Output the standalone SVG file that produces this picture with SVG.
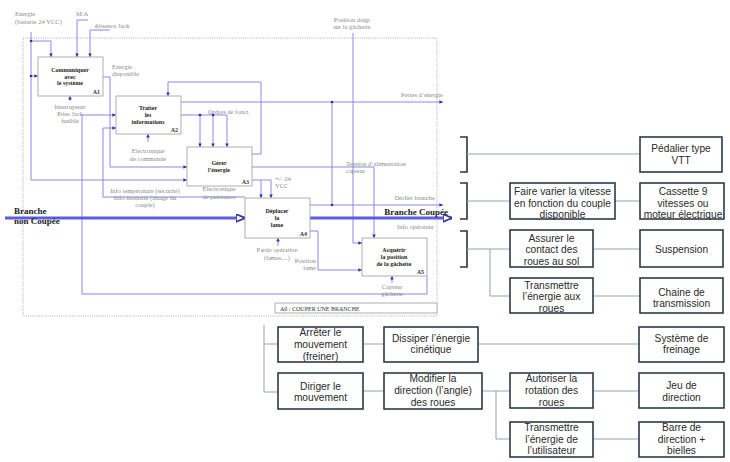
<svg xmlns="http://www.w3.org/2000/svg" width="730" height="462" viewBox="0 0 730 462">
<defs>
<style>
.bl{fill:none;stroke:#7d7de6;stroke-width:0.9}
.thick{fill:none;stroke:#5c5ce0;stroke-width:3}
.sbox{fill:#fff;stroke:#a6a6a6;stroke-width:0.9}
.frame{fill:none;stroke:#a6a6a6;stroke-width:0.9;stroke-dasharray:1 1.2}
.st{font-family:"Liberation Serif",serif;font-size:6px;font-weight:bold;fill:#222;text-anchor:middle}
.sn{font-family:"Liberation Serif",serif;font-size:6px;font-weight:bold;fill:#333;text-anchor:end}
.lb{font-family:"Liberation Serif",serif;font-size:6.5px;fill:#8a8a8a}
.lbm{font-family:"Liberation Serif",serif;font-size:6.5px;fill:#8a8a8a;text-anchor:middle}
.lbe{font-family:"Liberation Serif",serif;font-size:6.5px;fill:#8a8a8a;text-anchor:end}
.big{font-family:"Liberation Serif",serif;font-size:9px;font-weight:bold;fill:#222}
.dot{fill:#3030a0}
.rbox{fill:#fff;stroke:#2c3a4b;stroke-width:1.6}
.rl{fill:none;stroke:#93a3ad;stroke-width:1}
.br{fill:none;stroke:#333;stroke-width:1.6}
.rt{font-family:"Liberation Sans",Arial,sans-serif;font-size:10.2px;fill:#2a2a2a;text-anchor:middle}
</style>
<marker id="ar" viewBox="0 0 6 6" refX="6" refY="3" markerWidth="4" markerHeight="4" orient="auto"><path d="M0,0 L6,3 L0,6 z" fill="#3030a0"/></marker>
<marker id="art" viewBox="0 0 8 8" refX="8" refY="4" markerWidth="3" markerHeight="3" orient="auto"><path d="M0,0.5 L8,4 L0,7.5 z" fill="#fff" stroke="#3030a0" stroke-width="1.5"/></marker>
</defs>
<rect width="730" height="462" fill="#fff"/>

<!-- SADT frame -->
<g id="frame">
<rect class="frame" x="23" y="38" width="414" height="278"/>
<rect class="sbox" x="275" y="303" width="162" height="10"/>
<text class="lb" x="280" y="310.5" style="fill:#333;font-size:6px">A0 : COUPER UNE BRANCHE</text>
</g>

<!-- SADT connectors -->
<g id="connectors-sadt">
<path class="bl" d="M31,32 V180 H187" marker-end="url(#ar)"/>
<path class="bl" d="M31,41 H51 V57" marker-end="url(#ar)"/>
<path class="bl" d="M31,76 H38" marker-end="url(#ar)"/>
<path class="bl" d="M88,20 H77 V57" marker-end="url(#ar)"/>
<path class="bl" d="M110,30 H90 V57" marker-end="url(#ar)"/>
<path class="bl" d="M103,77 H110 V167 H187" marker-end="url(#ar)"/>
<path class="bl" d="M70,101 V96" marker-end="url(#ar)"/>
<path class="bl" d="M427,276 V294 H82 V115 H116" marker-end="url(#ar)"/>
<path class="bl" d="M245,197 H103 V128 H116" marker-end="url(#ar)"/>
<path class="bl" d="M252,154 H261 V82 H168 V96" marker-end="url(#ar)"/>
<path class="bl" d="M181,102 H443" marker-end="url(#ar)"/>
<path class="bl" d="M332,102 V205"/>
<path class="bl" d="M310,205 H443" marker-end="url(#ar)"/>
<path class="bl" d="M181,115 H227 V147" marker-end="url(#ar)"/>
<path class="bl" d="M200,115 V147" marker-end="url(#ar)"/>
<path class="bl" d="M213,115 V147" marker-end="url(#ar)"/>
<path class="bl" d="M148,142 V134" marker-end="url(#ar)"/>
<path class="bl" d="M252,167 H374 V238" marker-end="url(#ar)"/>
<path class="bl" d="M252,180 H271 V198" marker-end="url(#ar)"/>
<path class="bl" d="M261,180 V198" marker-end="url(#ar)"/>
<path class="bl" d="M353,33 V243 H362" marker-end="url(#ar)"/>
<path class="bl" d="M278,246 V238" marker-end="url(#ar)"/>
<path class="bl" d="M310,231 H318 V270 H362" marker-end="url(#ar)"/>
<path class="bl" d="M392,283 V276" marker-end="url(#ar)"/>
<path class="thick" d="M5,218 H245" marker-end="url(#art)"/>
<path class="thick" d="M310,218 H452" marker-end="url(#art)"/>
<circle class="dot" cx="31" cy="41" r="1.3"/>
<circle class="dot" cx="31" cy="76" r="1.3"/>
<circle class="dot" cx="332" cy="102" r="1.3"/>
<circle class="dot" cx="332" cy="205" r="1.3"/>
<circle class="dot" cx="200" cy="115" r="1.3"/>
<circle class="dot" cx="213" cy="115" r="1.3"/>
</g>

<!-- SADT labels -->
<g id="sadt-labels">
<text class="lb" x="15" y="16">Energie</text>
<text class="lb" x="15" y="24">(batterie 24 VCC)</text>
<text class="lb" x="76" y="16">M/A</text>
<text class="lb" x="94" y="28">Absence Jack</text>
<text class="lb" x="112" y="69">Energie</text>
<text class="lb" x="112" y="76">disponible</text>
<text class="lbm" x="70" y="109">Interrupteur</text>
<text class="lbm" x="70" y="116">Prise Jack</text>
<text class="lbm" x="70" y="123">fusible</text>
<text class="lb" x="208" y="114">Ordres de fonct.</text>
<text class="lbe" x="443" y="97">Pertes d’énergie</text>
<text class="lbm" x="148" y="153">Electronique</text>
<text class="lbm" x="148" y="161">de commande</text>
<text class="lbm" x="145" y="193">Info température (sécurité)</text>
<text class="lbm" x="145" y="200">Info intensité (image du</text>
<text class="lbm" x="145" y="207">couple)</text>
<text class="lbm" x="219" y="191">Electronique</text>
<text class="lbm" x="219" y="199">de puissance</text>
<text class="lb" x="275" y="181">+/- 24</text>
<text class="lb" x="275" y="188">VCC</text>
<text class="lb" x="346" y="166">Tension d’alimentation</text>
<text class="lb" x="346" y="173">capteur</text>
<text class="lbm" x="352" y="22">Position doigt</text>
<text class="lbm" x="352" y="29">sur la gâchette</text>
<text class="lbe" x="435" y="200">Déchet branche</text>
<text class="lb" x="397" y="229">Info opérateur</text>
<text class="lbm" x="277" y="252">Partie opérative</text>
<text class="lbm" x="277" y="260">(lames,...)</text>
<text class="lbe" x="316" y="263">Position</text>
<text class="lbe" x="316" y="270">lame</text>
<text class="lbm" x="392" y="289">Capteur</text>
<text class="lbm" x="392" y="296">gâchette</text>
<text class="big" x="14" y="214">Branche</text>
<text class="big" x="14" y="224">non Coupée</text>
<text class="big" x="448" y="215" text-anchor="end">Branche Coupée</text>
</g>

<g id="A1">
<rect class="sbox" x="38" y="57" width="65" height="39"/>
<text class="st" x="70" y="72">Communiquer</text>
<text class="st" x="70" y="78.5">avec</text>
<text class="st" x="70" y="85">le système</text>
<text class="sn" x="100" y="94">A1</text>
</g>
<g id="A2">
<rect class="sbox" x="116" y="96" width="65" height="38"/>
<text class="st" x="148" y="110">Traiter</text>
<text class="st" x="148" y="117">les</text>
<text class="st" x="148" y="123.5">informations</text>
<text class="sn" x="178" y="132">A2</text>
</g>
<g id="A3">
<rect class="sbox" x="187" y="147" width="65" height="39"/>
<text class="st" x="219" y="165">Gérer</text>
<text class="st" x="219" y="172">l'énergie</text>
<text class="sn" x="249" y="184">A3</text>
</g>
<g id="A4">
<rect class="sbox" x="245" y="198" width="65" height="40"/>
<text class="st" x="277" y="213">Déplacer</text>
<text class="st" x="277" y="220">la</text>
<text class="st" x="277" y="227">lame</text>
<text class="sn" x="307" y="236">A4</text>
</g>
<g id="A5">
<rect class="sbox" x="362" y="238" width="65" height="38"/>
<text class="st" x="394" y="252">Acquérir</text>
<text class="st" x="394" y="259">la position</text>
<text class="st" x="394" y="266">de la gâchette</text>
<text class="sn" x="424" y="274">A5</text>
</g>

<!-- Functional tree connectors -->
<g id="connectors-tree">
<path class="br" d="M460,137 H467 V172 H460"/>
<path class="br" d="M460,183 H467 V219 H460"/>
<path class="br" d="M460,231 H467 V267 H460"/>
<path class="rl" d="M467,154 H640"/>
<path class="rl" d="M467,201 H510"/>
<path class="rl" d="M615,201 H640"/>
<path class="rl" d="M467,249 H510"/>
<path class="rl" d="M490,249 V296 H510"/>
<path class="rl" d="M593,249 H640"/>
<path class="rl" d="M593,296 H640"/>
<path class="rl" d="M264,325 V392 H278"/>
<path class="rl" d="M264,344 H278"/>
<path class="rl" d="M363,344 H384"/>
<path class="rl" d="M478,344 H639"/>
<path class="rl" d="M363,391 H384"/>
<path class="rl" d="M482,391 H510"/>
<path class="rl" d="M496,391 V439 H510"/>
<path class="rl" d="M593,391 H639"/>
<path class="rl" d="M593,439 H639"/>
</g>

<g id="pedalier">
<rect class="rbox" x="640" y="137" width="82" height="35"/>
<text class="rt" x="681" y="152">Pédalier type</text>
<text class="rt" x="681" y="164">VTT</text>
</g>
<g id="faire-varier">
<rect class="rbox" x="510" y="183" width="105" height="36"/>
<text class="rt" x="562.5" y="195">Faire varier la vitesse</text>
<text class="rt" x="562.5" y="207">en fonction du couple</text>
<text class="rt" x="562.5" y="218">disponible</text>
</g>
<g id="cassette">
<rect class="rbox" x="640" y="183" width="84" height="36"/>
<text class="rt" x="683" y="195">Cassette 9</text>
<text class="rt" x="683" y="207">vitesses ou</text>
<text class="rt" x="683" y="218">moteur électrique</text>
</g>
<g id="assurer">
<rect class="rbox" x="510" y="230" width="83" height="37"/>
<text class="rt" x="551.5" y="242">Assurer le</text>
<text class="rt" x="551.5" y="253">contact des</text>
<text class="rt" x="551.5" y="265">roues au sol</text>
</g>
<g id="suspension">
<rect class="rbox" x="640" y="230" width="83" height="37"/>
<text class="rt" x="681.5" y="253">Suspension</text>
</g>
<g id="transmettre-roues">
<rect class="rbox" x="510" y="278" width="83" height="35"/>
<text class="rt" x="551.5" y="289">Transmettre</text>
<text class="rt" x="551.5" y="300">l’énergie aux</text>
<text class="rt" x="551.5" y="312">roues</text>
</g>
<g id="chaine">
<rect class="rbox" x="640" y="278" width="83" height="35"/>
<text class="rt" x="681.5" y="296">Chaine de</text>
<text class="rt" x="681.5" y="307">transmission</text>
</g>
<g id="arreter">
<rect class="rbox" x="278" y="327" width="85" height="35"/>
<text class="rt" x="320.5" y="336">Arrêter le</text>
<text class="rt" x="320.5" y="348">mouvement</text>
<text class="rt" x="320.5" y="360">(freiner)</text>
</g>
<g id="dissiper">
<rect class="rbox" x="384" y="327" width="94" height="35"/>
<text class="rt" x="431" y="342">Dissiper l’énergie</text>
<text class="rt" x="431" y="353">cinétique</text>
</g>
<g id="freinage">
<rect class="rbox" x="639" y="327" width="85" height="35"/>
<text class="rt" x="681.5" y="342">Système de</text>
<text class="rt" x="681.5" y="353">freinage</text>
</g>
<g id="diriger">
<rect class="rbox" x="278" y="373" width="85" height="36"/>
<text class="rt" x="320.5" y="390">Diriger le</text>
<text class="rt" x="320.5" y="401">mouvement</text>
</g>
<g id="modifier">
<rect class="rbox" x="384" y="373" width="98" height="36"/>
<text class="rt" x="433" y="382">Modifier la</text>
<text class="rt" x="433" y="394">direction (l’angle)</text>
<text class="rt" x="433" y="406">des roues</text>
</g>
<g id="autoriser">
<rect class="rbox" x="510" y="373" width="83" height="35"/>
<text class="rt" x="551.5" y="382">Autoriser la</text>
<text class="rt" x="551.5" y="394">rotation des</text>
<text class="rt" x="551.5" y="406">roues</text>
</g>
<g id="jeu">
<rect class="rbox" x="639" y="373" width="85" height="35"/>
<text class="rt" x="681.5" y="389">Jeu de</text>
<text class="rt" x="681.5" y="401">direction</text>
</g>
<g id="transmettre-utilisateur">
<rect class="rbox" x="510" y="422" width="83" height="35"/>
<text class="rt" x="551.5" y="431">Transmettre</text>
<text class="rt" x="551.5" y="443">l’énergie de</text>
<text class="rt" x="551.5" y="454">l’utilisateur</text>
</g>
<g id="barre">
<rect class="rbox" x="639" y="422" width="85" height="35"/>
<text class="rt" x="681.5" y="431">Barre de</text>
<text class="rt" x="681.5" y="443">direction +</text>
<text class="rt" x="681.5" y="454">bielles</text>
</g>
</svg>
